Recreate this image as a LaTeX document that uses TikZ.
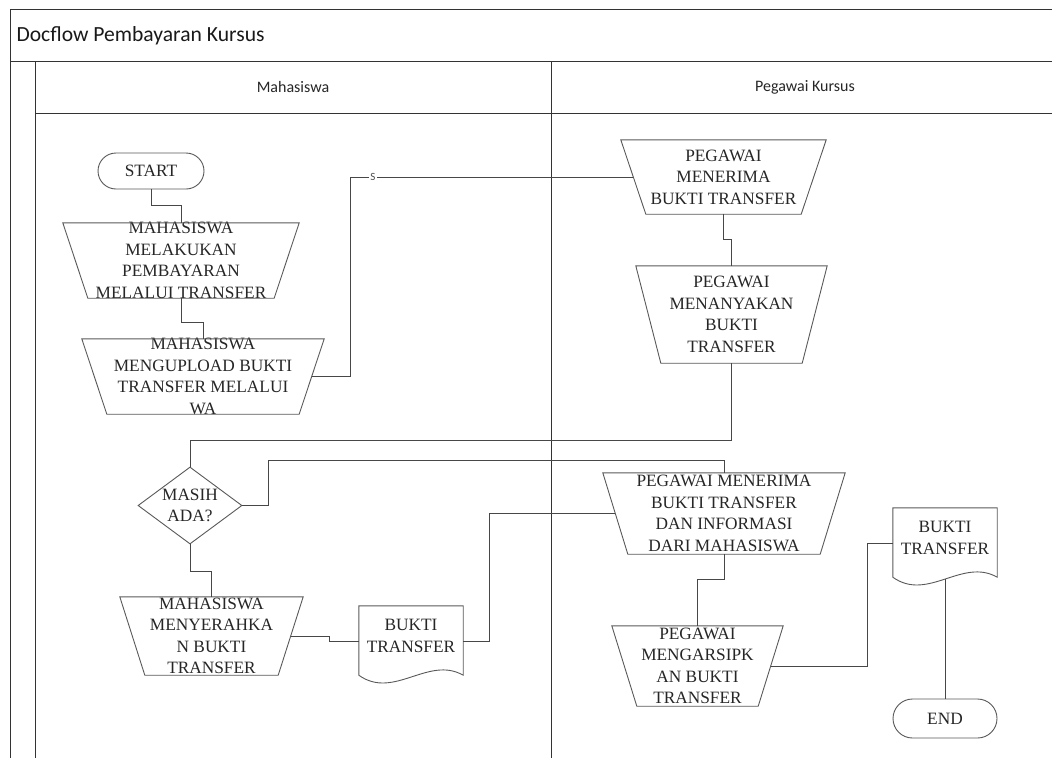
\documentclass[tikz,border=0pt]{standalone}
\usepackage{fontspec}
\setmainfont{Liberation Serif}
\newfontfamily\calfont{Carlito}
\usetikzlibrary{shapes.geometric,shapes.misc,calc}
\begin{document}
\begin{tikzpicture}[x=1pt,y=-1pt,
  frame/.style={draw=black!80, line width=1pt},
  conn/.style={draw=black!72, line width=0.9pt},
  outline/.style={draw=black!65, line width=0.9pt},
  txt/.style={font=\fontsize{17.3}{21.5}\selectfont, align=center, text=black!85, inner sep=0pt},
  trapbox/.style={draw=none, rectangle, inner sep=0pt},
  term/.style={outline, fill=white, rounded rectangle, inner sep=0pt, font=\fontsize{17.3}{21.5}\selectfont, text=black!85},
  decision/.style={outline, fill=white, diamond, inner sep=0pt, minimum width=104, minimum height=77},
  docnode/.style={draw=none, minimum width=104, minimum height=71, inner sep=0pt},
  lane/.style={font=\calfont\fontsize{16}{19}\selectfont, text=black!85},
  slabel/.style={font=\calfont\fontsize{11}{13}\selectfont, text=black!70, fill=white, inner sep=1pt}
]
\useasboundingbox (0,0) rectangle (1052,758);

% frame
\draw[frame] (1052,9) -- (10,9) -- (10,758);
\draw[frame] (10,61) -- (1052,61);
\draw[frame] (35,61) -- (35,758);
\draw[frame] (35,113) -- (1052,113);
\draw[frame] (551,61) -- (551,758);
\node[anchor=west, font=\calfont\fontsize{21.6}{25}\selectfont, text=black!90] (title) at (13,36) {Docflow Pembayaran Kursus};
\node[lane] (lane1) at (293,87) {Mahasiswa};
\node[lane] (lane2) at (805,87) {Pegawai Kursus};

% nodes
\node[term, minimum width=106, minimum height=36] (start) at (151,171) {START};
\node[trapbox, minimum width=236, minimum height=75, label={[txt]center:MAHASISWA\\MELAKUKAN\\PEMBAYARAN\\MELALUI TRANSFER}] (t1) at (181,260.5) {};
\node[trapbox, minimum width=242, minimum height=75, label={[txt]center:MAHASISWA\\MENGUPLOAD BUKTI\\TRANSFER MELALUI\\WA}] (t2) at (203,376.5) {};
\node[trapbox, minimum width=205, minimum height=74, label={[txt]center:PEGAWAI\\MENERIMA\\BUKTI TRANSFER}] (t3) at (723.5,177) {};
\node[trapbox, minimum width=191, minimum height=97, label={[txt]center:PEGAWAI\\MENANYAKAN\\BUKTI\\TRANSFER}] (t4) at (731.5,314.5) {};
\node[decision, label={[txt]center:MASIH\\ADA?}] (dec) at (190,505.5) {};
\node[trapbox, minimum width=242, minimum height=81, label={[txt]center:PEGAWAI MENERIMA\\BUKTI TRANSFER\\DAN INFORMASI\\DARI MAHASISWA}] (t5) at (724,513.5) {};
\node[trapbox, minimum width=183, minimum height=78, label={[txt]center:MAHASISWA\\MENYERAHKA\\N BUKTI\\TRANSFER}] (t6) at (211.5,636) {};
\node[trapbox, minimum width=171, minimum height=80, label={[txt]center:PEGAWAI\\MENGARSIPK\\AN BUKTI\\TRANSFER}] (t7) at (697.5,666) {};
\node[docnode, label={[txt,yshift=5.5pt]center:BUKTI\\TRANSFER}] (doc1) at (411,641.5) {};
\node[docnode, label={[txt,yshift=5.5pt]center:BUKTI\\TRANSFER}] (doc2) at (945,543.5) {};
\node[term, minimum width=104, minimum height=39] (end) at (945,718.5) {END};

% trapezoid outlines
\foreach \t in {t1,t2,t3,t4,t5,t6,t7}{
  \draw[outline] (\t.north west) -- (\t.north east) -- ($(\t.south east)+(-25,0)$)
    -- ($(\t.south west)+(25,0)$) -- cycle;
}
% document outlines
\foreach \d in {doc1,doc2}{
  \draw[outline] (\d.north west) -- (\d.north east) -- ($(\d.south east)+(0,-2)$)
    .. controls ($(\d.south east)+(-35,-22)$) and ($(\d.south west)+(35,23)$) .. ($(\d.south west)+(0,-2)$) -- cycle;
}

% connectors
\coordinate (j1) at (350,177);
\draw[conn] (start.south) -- ++(0,16) -| (t1.north);
\draw[conn] (t1.south) -- ++(0,24) -| (t2.north);
\draw[conn] ($(t2.east)+(-12.5,0)$) -| (j1) -- ($(t3.west)+(12.5,0)$);
\node[slabel] (s) at (373,177) {S};
\draw[conn] (t3.south) -- ++(0,25) -| (t4.north);
\draw[conn] (t4.south) -- ++(0,77) -| (dec.north);
\draw[conn] (dec.east) -- ++(26,0) -- ++(0,-45.5) -| (t5.north);
\draw[conn] (dec.south) -- ++(0,27) -| (t6.north);
\draw[conn] ($(t6.east)+(-12.5,0)$) -- ++(39,0) |- (doc1.west);
\draw[conn] (doc1.east) -- ++(26,0) |- ($(t5.west)+(12.5,0)$);
\draw[conn] (t5.south) -- ++(0,25) -| (t7.north);
\draw[conn] ($(t7.east)+(-12.5,0)$) -- ++(97,0) |- (doc2.west);
\draw[conn] (doc2.south) -- (end.north);
\end{tikzpicture}
\end{document}
